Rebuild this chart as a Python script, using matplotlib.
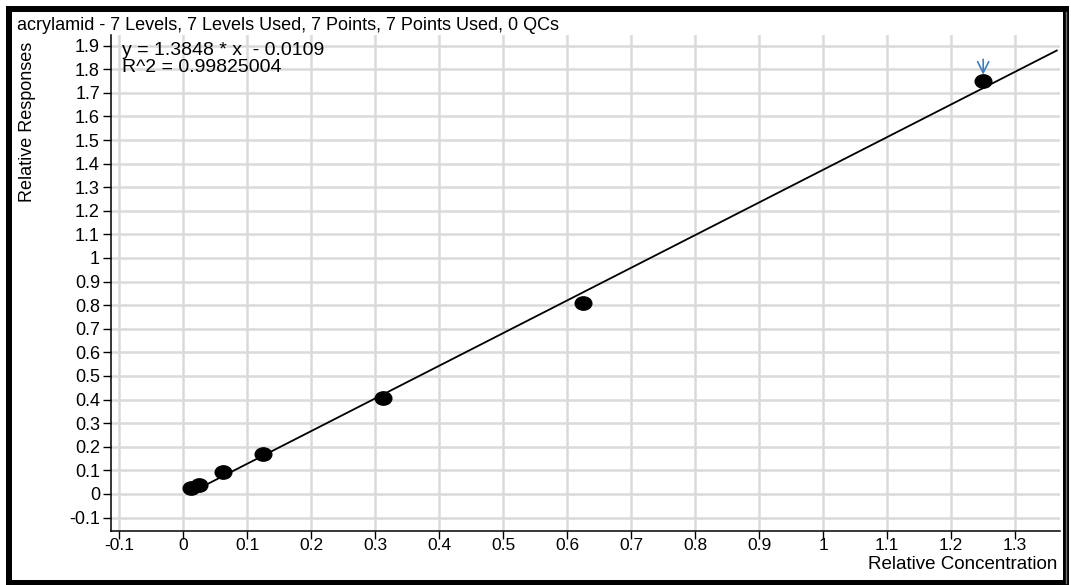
import matplotlib
matplotlib.use("Agg")
import matplotlib.pyplot as plt
from matplotlib.patches import Rectangle
from matplotlib.lines import Line2D
from matplotlib.path import Path
from matplotlib.transforms import Affine2D
import numpy as np

plt.rcParams['font.family'] = ['Liberation Sans', 'DejaVu Sans']

# calibration points
conc = [0.0125, 0.025, 0.0625, 0.125, 0.3125, 0.625, 1.25]
resp = [0.024, 0.040, 0.092, 0.171, 0.405, 0.810, 1.750]

# fitted line (from the chart's equation)
slope = 1.3848
intercept = -0.0109
line_x = [0.0125, 1.365]

title = 'acrylamid - 7 Levels, 7 Levels Used, 7 Points, 7 Points Used, 0 QCs'
eq_line1 = 'y = 1.3848 * x  - 0.0109'
eq_line2 = 'R^2 = 0.99825004'
xticks = [-0.1, 0, 0.1, 0.2, 0.3, 0.4, 0.5, 0.6, 0.7, 0.8, 0.9, 1, 1.1, 1.2, 1.3]
yticks = [-0.1, 0, 0.1, 0.2, 0.3, 0.4, 0.5, 0.6, 0.7, 0.8, 0.9, 1,
          1.1, 1.2, 1.3, 1.4, 1.5, 1.6, 1.7, 1.8, 1.9]

W, H = 1071, 585
fig = plt.figure(figsize=(W / 100, H / 100), dpi=100)
ax = fig.add_axes([111 / W, 1 - 531 / H, 949 / W, 496 / H])

ax.set_xlim(-0.1125, 1.37)
ax.set_ylim(-0.157, 1.945)

ax.set_xticks(xticks)
ax.set_xticklabels(['%g' % t for t in xticks])
ax.set_yticks(yticks)
ax.set_yticklabels(['%g' % t for t in yticks])
ax.grid(True, color='#dadada', lw=1.8)
ax.set_axisbelow(True)
for s in ['top', 'right']:
    ax.spines[s].set_visible(False)
for s in ['left', 'bottom']:
    ax.spines[s].set_linewidth(1.1)
ax.tick_params(axis='both', labelsize=13, length=6, width=1, direction='out')
ax.tick_params(axis='x', pad=-1, labelsize=12.5)
ax.tick_params(axis='y', pad=2)

lx = np.array(line_x)
ax.plot(lx, slope * lx + intercept, color='black', lw=1.3, zorder=3)

oval = Path.unit_circle().transformed(Affine2D().scale(1, 0.8))
ax.plot(conc, resp, ls='none', marker=oval, ms=12, color='black', zorder=4)

# marker arrow above the last point
ax.annotate('', xy=(conc[-1], resp[-1] + 0.027), xytext=(conc[-1], resp[-1] + 0.092),
            arrowprops=dict(arrowstyle='->', color='#3b7ec0', lw=1.2,
                            mutation_scale=20, shrinkA=0, shrinkB=0))

fig.text(122 / W, 1 - 55 / H, eq_line1, ha='left', va='baseline', fontsize=14)
fig.text(122 / W, 1 - 72 / H, eq_line2, ha='left', va='baseline', fontsize=14)

fig.text(17 / W, 1 - 30 / H, title, ha='left', va='baseline', fontsize=13)
fig.text(28 / W, 1 - 42 / H, 'Relative Responses', rotation=90, ha='center',
         va='top', fontsize=13)
fig.text(1057 / W, 1 - 569 / H, 'Relative Concentration', ha='right',
         va='baseline', fontsize=13.5)

# outer frame
fig.patches.append(Rectangle((9 / W, 1 - 583 / H), 1057 / W, 574 / H,
                             transform=fig.transFigure, fill=False,
                             edgecolor='black', lw=4.3))
fig.lines.append(Line2D([1066 / W, 1066 / W], [1 - 583 / H, 1 - 12 / H],
                        transform=fig.transFigure, color='#707070', lw=1))

fig.savefig('out.png', dpi=100)
